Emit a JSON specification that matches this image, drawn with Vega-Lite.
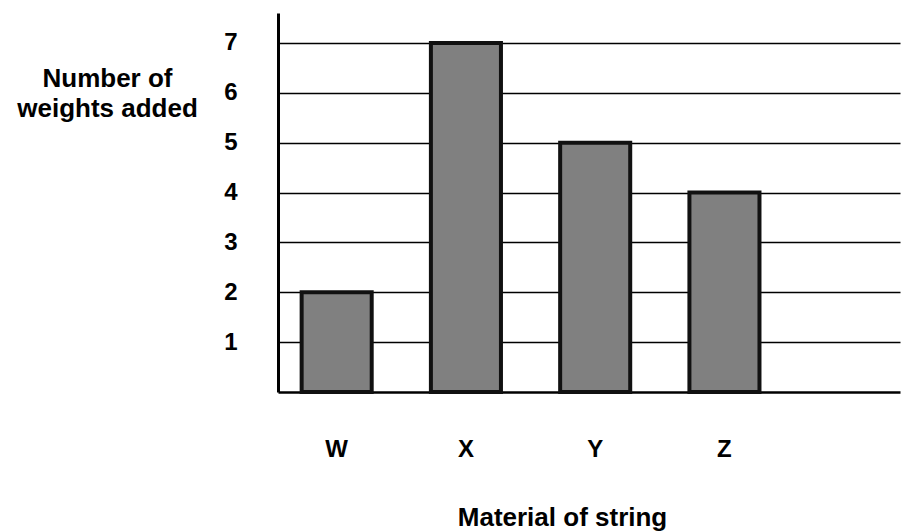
{
  "$schema": "https://vega.github.io/schema/vega-lite/v6.json",
  "width": 622,
  "height": 379,
  "autosize": "none",
  "padding": {"left": 278, "top": 13, "right": 4, "bottom": 139},
  "background": "white",
  "data": {
    "values": [
      {"material": "W", "weights": 2},
      {"material": "X", "weights": 7},
      {"material": "Y", "weights": 5},
      {"material": "Z", "weights": 4}
    ]
  },
  "mark": {"type": "bar", "fill": "#808080", "stroke": "#111111", "strokeWidth": 4},
  "encoding": {
    "x": {
      "field": "material",
      "type": "nominal",
      "sort": null,
      "scale": {"paddingInner": 0.458, "paddingOuter": 0.635, "align": 0.144},
      "axis": {
        "title": "Material of string",
        "labelAngle": 0,
        "ticks": false,
        "labelPadding": 45,
        "labelFont": "Liberation Sans",
        "labelFontSize": 24,
        "labelFontWeight": "bold",
        "labelColor": "#000000",
        "domainColor": "#000000",
        "domainWidth": 2.5,
        "titleFont": "Liberation Sans",
        "titleFontSize": 26,
        "titleFontWeight": "bold",
        "titleColor": "#000000",
        "titleX": 284,
        "titleY": 133,
        "titleAlign": "center",
        "titleBaseline": "alphabetic"
      }
    },
    "y": {
      "field": "weights",
      "type": "quantitative",
      "scale": {"domain": [0, 7.6], "nice": false},
      "axis": {
        "values": [1, 2, 3, 4, 5, 6, 7],
        "title": ["Number of", "weights added"],
        "titleAngle": 0,
        "titleX": -171,
        "titleY": 73,
        "titleAlign": "center",
        "titleBaseline": "alphabetic",
        "titleLineHeight": 30,
        "titleFont": "Liberation Sans",
        "titleFontSize": 26,
        "titleFontWeight": "bold",
        "titleColor": "#000000",
        "grid": true,
        "gridColor": "#000000",
        "gridWidth": 1.5,
        "ticks": false,
        "labelPadding": 41,
        "labelFont": "Liberation Sans",
        "labelFontSize": 24,
        "labelFontWeight": "bold",
        "labelColor": "#000000",
        "domainColor": "#000000",
        "domainWidth": 3
      }
    }
  },
  "config": {"view": {"stroke": null}}
}
